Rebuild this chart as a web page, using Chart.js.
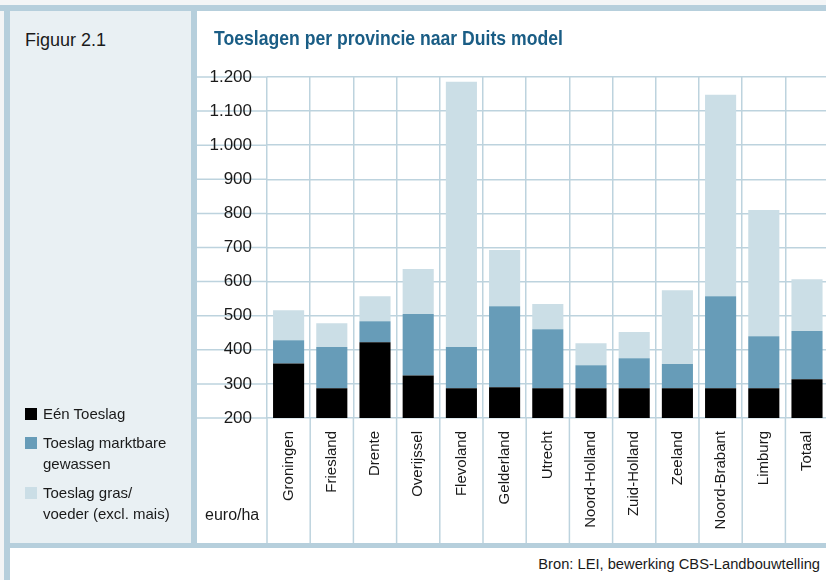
<!DOCTYPE html>
<html>
<head>
<meta charset="utf-8">
<script src="https://cdn.jsdelivr.net/npm/chart.js@4/dist/chart.umd.min.js"></script>
<style>
  html, body { margin:0; padding:0; }
  body { width:826px; height:580px; overflow:hidden; position:relative; background:#f3f5f6; font-family:"Liberation Sans", Arial, sans-serif; color:#1a1a1a; }
  .band { position:absolute; background:#b6cfdc; }
  #leftPanel { position:absolute; left:10px; top:11px; width:181px; height:532px; background:#e9f0f3; }
  #rightPanel { position:absolute; left:197px; top:11px; width:629px; height:532px; background:#fff; }
  #footer { position:absolute; left:10px; top:548px; width:816px; height:32px; background:#fff; }
  #fig { position:absolute; left:25px; top:30px; font-size:18px; }
  #title { position:absolute; left:214px; top:27px; font-weight:bold; font-size:20px; color:#1a5d85; white-space:nowrap; transform:scaleX(0.88); transform-origin:0 0; }
  #legend { position:absolute; left:25px; top:403px; font-size:15px; line-height:21px; }
  .li { position:relative; padding-left:18px; margin-bottom:8px; width:170px; white-space:pre-line; }
  .sw { position:absolute; left:0; top:5px; width:12px; height:12px; }
  #unit { position:absolute; left:205px; top:506px; font-size:16px; }
  #bron { position:absolute; right:6px; top:556px; font-size:14.7px; white-space:nowrap; }
  #wrap { position:absolute; left:197px; top:10px; width:641px; height:533px; }
</style>
</head>
<body>
<div class="band" style="left:0;top:5px;width:826px;height:6px;"></div>
<div class="band" style="left:4px;top:5px;width:6px;height:575px;"></div>
<div id="leftPanel"></div>
<div class="band" style="left:191px;top:11px;width:6px;height:532px;"></div>
<div id="rightPanel"></div>
<div class="band" style="left:4px;top:543px;width:822px;height:5px;"></div>
<div id="footer"></div>
<div id="wrap"><canvas id="c" width="641" height="533" style="width:641px;height:533px;"></canvas></div>
<div id="fig">Figuur 2.1</div>
<div id="title">Toeslagen per provincie naar Duits model</div>
<div id="legend"></div>
<div id="unit">euro/ha</div>
<div id="bron">Bron: LEI, bewerking CBS-Landbouwtelling</div>
<script>
const provinces = ["Groningen","Friesland","Drente","Overijssel","Flevoland","Gelderland","Utrecht","Noord-Holland","Zuid-Holland","Zeeland","Noord-Brabant","Limburg","Totaal"];
const eenToeslag        = [360, 287, 422, 325, 287, 290, 287, 287, 287, 287, 287, 287, 314];
const marktbareGewassen = [ 68, 121,  62, 180, 121, 238, 173,  68,  88,  71, 270, 153, 141];
const grasVoeder        = [ 88,  70,  73, 132, 778, 165,  74,  64,  77, 217, 591, 370, 152];
const seriesLabels = ["Eén Toeslag", "Toeslag marktbare\ngewassen", "Toeslag gras/\nvoeder (excl. mais)"];
const seriesColors = ["#000000", "#679cb8", "#cbdee6"];
const yMin = 200, yMax = 1200, yStep = 100;

const legendEl = document.getElementById('legend');
seriesLabels.forEach((l, i) => {
  const d = document.createElement('div'); d.className = 'li';
  const s = document.createElement('span'); s.className = 'sw'; s.style.background = seriesColors[i];
  d.appendChild(s); d.appendChild(document.createTextNode(l));
  legendEl.appendChild(d);
});

const gridColor = '#bdd3de';
const extendGrid = {
  id: 'extendGrid',
  beforeDraw(chart) {
    const ctx = chart.ctx, a = chart.chartArea, xs = chart.scales.x, ys = chart.scales.y;
    ctx.save();
    ctx.strokeStyle = gridColor; ctx.lineWidth = 1.5;
    ys.ticks.forEach(t => {
      const y = ys.getPixelForValue(t.value);
      ctx.beginPath(); ctx.moveTo(0, y); ctx.lineTo(a.left, y); ctx.stroke();
    });
    for (let i = 0; i <= provinces.length; i++) {
      const x = xs.getPixelForValue(i - 0.5);
      ctx.beginPath(); ctx.moveTo(x, a.bottom); ctx.lineTo(x, chart.height); ctx.stroke();
    }
    ctx.restore();
  }
};

const ds = [eenToeslag, marktbareGewassen, grasVoeder].map((d, i) => ({
  label: seriesLabels[i].replace('\n', ' '), data: d, backgroundColor: seriesColors[i],
  borderWidth: 0, barPercentage: 0.72, categoryPercentage: 1
}));

new Chart(document.getElementById('c'), {
  type: 'bar',
  data: { labels: provinces, datasets: ds },
  plugins: [extendGrid],
  options: {
    responsive: false, animation: false,
    layout: { padding: { top: 67, left: 0, right: 0, bottom: 0 } },
    plugins: { legend: { display: false }, tooltip: { enabled: false }, title: { display: false } },
    scales: {
      x: {
        stacked: true, offset: true,
        grid: { color: gridColor, lineWidth: 1.5, offset: true, drawTicks: false },
        border: { display: false },
        ticks: { minRotation: 90, maxRotation: 90, autoSkip: false, padding: 13, color: '#1a1a1a',
                 font: { family: '"Liberation Sans", Arial, sans-serif', size: 15 } },
        afterFit(s) { s.height = 125; }
      },
      y: {
        stacked: true, min: yMin, max: yMax,
        grid: { color: gridColor, lineWidth: 1.5, drawTicks: false },
        border: { display: false },
        ticks: { stepSize: yStep, padding: 15, color: '#1a1a1a',
                 font: { family: '"Liberation Sans", Arial, sans-serif', size: 17 },
                 callback: v => v.toLocaleString('nl-NL') },
        afterFit(s) { s.width = 70; }
      }
    }
  }
});
</script>
</body>
</html>
